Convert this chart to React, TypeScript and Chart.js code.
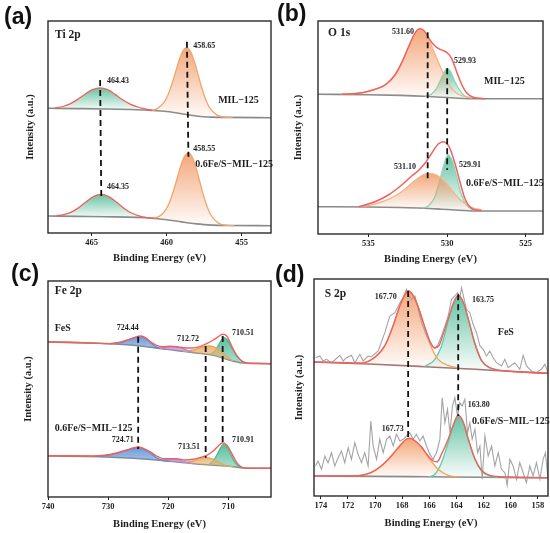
import React, { useEffect, useRef } from 'react';
import Chart from 'chart.js/auto';

type Pt = [number, number];
type RGB = [number, number, number];

const SERIF = "'Liberation Serif', 'Times New Roman', serif";
const SANS = "'Liberation Sans', Arial, sans-serif";
const INK = '#1f1f1f';

// ---------- (a) Ti 2p ----------
const aTicks = [465, 460, 455];
const aTopBg: Pt[] = [[467.9, 124.7], [466, 124.4], [464, 124], [462, 123.3], [461, 122.6], [460, 121.5], [459.5, 120.5], [459, 119.3], [458.5, 118], [458, 117], [457.5, 116.3], [457, 115.9], [456, 115.6], [453.05, 115.3]];
const aTopTi2p1: Pt[] = [[467.43, 124.8], [466.93, 126.5], [466.43, 129.2], [465.93, 133.6], [465.43, 138.8], [464.93, 143.3], [464.43, 145.2], [463.93, 143.3], [463.43, 138.6], [462.93, 133.2], [462.43, 128.8], [461.93, 126], [461.43, 124.2], [460.93, 122.6]];
const aTopTi2p3: Pt[] = [[461, 122.6], [460.65, 124.1], [460.15, 131.2], [459.9, 138.5], [459.65, 149], [459.4, 161.4], [459.15, 173.5], [458.9, 182.5], [458.65, 185.4], [458.4, 181.2], [458.15, 171.2], [457.9, 158.1], [457.65, 144.7], [457.4, 133.6], [457.15, 125.6], [456.65, 117.9], [456.15, 115.9], [455.6, 115.5]];
const aBotBg: Pt[] = [[467.9, 17], [466, 16.6], [464, 16.2], [462, 15.6], [461, 14.8], [460, 13.2], [459.5, 12.2], [459, 11.1], [458.5, 10], [458, 9.1], [457.5, 8.4], [457, 7.9], [456, 7.5], [453.05, 7.3]];
const aBotTi2p1: Pt[] = [[467.35, 17.2], [466.85, 18.3], [466.35, 20.8], [465.85, 25.4], [465.35, 31.3], [464.85, 36.6], [464.35, 38.7], [463.85, 36.4], [463.35, 30.9], [462.85, 24.8], [462.35, 20], [461.85, 17.2], [461.35, 15.4], [460.85, 14.6]];
const aBotTi2p3: Pt[] = [[461.05, 15.1], [460.55, 16.2], [460.05, 23.3], [459.8, 30.9], [459.55, 41.8], [459.3, 54.8], [459.05, 67.6], [458.8, 76.9], [458.55, 80.1], [458.3, 76], [458.05, 65.6], [457.8, 51.9], [457.55, 37.9], [457.3, 26.3], [457.05, 18], [456.55, 9.9], [456.05, 7.8], [455.5, 7.4]];
const aDash1: Pt[] = [[464.43, 153], [464.35, 34.7]];
const aDash2: Pt[] = [[458.65, 191.3], [458.55, 76.3]];

// ---------- (b) O 1s ----------
const bTicks = [535, 530, 525];
const bTopBg: Pt[] = [[538.2, 139.8], [535, 139.3], [533, 138.6], [531.5, 137.8], [530.35, 136.8], [529.5, 136], [528.65, 135.4], [527, 135.3], [523.9, 135.3]];
const bTopOH: Pt[] = [[536.7, 139.7], [535.4, 141.3], [534.58, 144.7], [533.94, 149], [533.3, 159], [532.88, 170.7], [532.46, 185.7], [532.14, 196.7], [531.93, 202], [531.72, 204], [531.46, 202.3], [531.19, 195.7], [530.87, 184], [530.56, 172.3], [530.24, 160.7], [529.92, 150.7], [529.5, 142.3], [529.08, 138.3], [528.44, 136.3]];
const bTopOL: Pt[] = [[531.4, 137.6], [530.98, 140], [530.66, 145.7], [530.41, 154], [530.2, 161.3], [529.99, 165.7], [529.78, 162.3], [529.5, 152.3], [529.18, 143.3], [528.87, 138], [528.44, 135.8]];
const bTopSum: Pt[] = [[536.7, 139.7], [535.4, 141.3], [534.58, 144.7], [533.94, 149], [533.3, 159.3], [532.88, 171.3], [532.46, 186.7], [532.14, 198], [531.93, 203.3], [531.72, 205.3], [531.46, 203.3], [531.19, 196.7], [530.87, 189.7], [530.56, 185.7], [530.24, 183.3], [529.99, 181.3], [529.71, 175.7], [529.39, 162.3], [529.08, 150], [528.76, 141.3], [528.33, 136.7], [527.6, 135.3]];
const bBotBg: Pt[] = [[538.2, 27.3], [535, 27], [533, 26.5], [531.5, 25.8], [530.35, 24.8], [529.5, 24], [528.65, 23.3], [527, 23], [523.9, 23]];
const bBotOH: Pt[] = [[535.62, 27.1], [534.58, 30], [533.73, 34.7], [532.88, 42.3], [532.25, 50.7], [531.72, 57.3], [531.19, 60.7], [530.66, 59], [530.14, 52.3], [529.61, 42.3], [529.08, 33], [528.44, 26.7], [527.8, 24]];
const bBotOL: Pt[] = [[531.6, 25.8], [531.19, 28], [530.77, 37.3], [530.45, 54], [530.2, 69], [529.93, 79], [529.65, 72.3], [529.39, 57.3], [529.08, 39], [528.76, 29], [528.23, 23.5]];
const bBotSum: Pt[] = [[535.62, 27.3], [534.58, 32.3], [533.73, 39], [532.88, 49], [532.25, 58], [531.83, 63.3], [531.4, 70.7], [530.98, 80.7], [530.56, 90], [530.24, 92.3], [530.03, 90.7], [529.82, 85.7], [529.5, 70.7], [529.18, 52.3], [528.87, 35.7], [528.44, 25.7], [527.8, 23.3]];
const bDash1: Pt[] = [[531.23, 201.7], [531.23, 55.7]];
const bDash2: Pt[] = [[529.99, 165.7], [529.99, 64]];

// ---------- (c) Fe 2p ----------
const cTicks = [740, 730, 720, 710];
const cTopBg: Pt[] = [[740, 155], [731.38, 153.7], [725.83, 151.7], [720.27, 147.7], [714.72, 143.7], [712.5, 141.7], [710.27, 137.7], [708.05, 134.3], [705.83, 133.7], [702.9, 133.3]];
const cTopFe2p1: Pt[] = [[729.72, 153.3], [728.05, 154.3], [726.66, 157], [725.55, 159.3], [724.72, 160.3], [723.88, 159], [723.05, 155], [722.22, 151], [721.39, 148.8]];
const cTopSat: Pt[] = [[721.66, 148.8], [720.27, 150], [719.16, 150.3], [718.05, 149.3], [716.94, 147], [716.11, 145.3]];
const cTopFe3: Pt[] = [[717.49, 145.7], [715.83, 147], [714.44, 149.7], [713.33, 151], [712.22, 149.7], [711.11, 145], [710, 139.3], [709.16, 136]];
const cTopFe2: Pt[] = [[713.05, 142.3], [712.22, 146], [711.66, 151.7], [711.11, 157], [710.72, 159.3], [710.16, 157], [709.44, 149.3], [708.61, 141], [707.77, 136], [706.94, 134]];
const cTopSum: Pt[] = [[740, 155.3], [734.16, 154.3], [729.72, 153.3], [728.05, 154.7], [726.66, 157.3], [725.55, 159.7], [724.72, 161], [723.88, 159.7], [723.05, 155.7], [721.94, 151.7], [720.83, 150.3], [719.72, 150.7], [718.61, 150.3], [717.49, 149.3], [716.11, 149], [714.72, 150.3], [713.61, 153.3], [712.5, 157], [711.66, 160.3], [710.94, 162.7], [710.27, 161], [709.44, 151], [708.61, 141.7], [707.77, 136], [706.66, 133.7], [702.9, 133.3]];
const cBotBg: Pt[] = [[740, 41], [731.38, 40.3], [725.83, 38.7], [720.27, 36], [714.72, 32.7], [712.5, 31.8], [710.27, 31], [708.05, 29.3], [705.83, 28.7], [702.9, 28.7]];
const cBotFe2p1: Pt[] = [[732.5, 40.7], [730.27, 41.7], [728.6, 43.7], [726.94, 46.7], [725.83, 48.7], [725, 49.3], [724.16, 48], [723.05, 44.3], [721.94, 39.3], [720.83, 36.3], [719.72, 35.7]];
const cBotSat: Pt[] = [[721.39, 36.6], [720, 37.7], [718.89, 37.7], [717.77, 36.3], [716.66, 34.3], [715.83, 33.4]];
const cBotFe3: Pt[] = [[717.49, 34.4], [715.83, 36], [714.72, 38.3], [713.88, 39.3], [712.77, 38.3], [711.66, 35], [710.55, 31.7], [709.16, 30.2]];
const cBotFe2: Pt[] = [[713.33, 32.2], [712.5, 36], [711.83, 42.7], [711.27, 49.3], [710.83, 52.7], [710.27, 50.3], [709.61, 42.7], [708.88, 34.3], [708.05, 30], [706.94, 28.9]];
const cBotSum: Pt[] = [[740, 41.3], [732.5, 41], [730.27, 42], [728.61, 44], [726.94, 47], [725.83, 49], [725, 50], [724.16, 48.7], [723.05, 45.3], [721.94, 41], [720.83, 38.3], [719.72, 38.3], [718.61, 38.3], [717.22, 37], [715.83, 37.7], [714.72, 39.3], [713.61, 41.7], [712.5, 46], [711.66, 51], [710.94, 54.3], [710.27, 52], [709.44, 43.7], [708.61, 34.3], [707.77, 30], [706.66, 28.7], [702.9, 28.7]];
const cDash1: Pt[] = [[725.0, 160.3], [725.0, 48]];
const cDash2: Pt[] = [[713.77, 151], [713.77, 39.3]];
const cDash3: Pt[] = [[710.94, 161], [710.94, 51]];

// ---------- (d) S 2p ----------
const dTicks = [174, 172, 170, 168, 166, 164, 162, 160, 158];
const dTopBg: Pt[] = [[174.5, 134], [170.02, 131.7], [166.33, 129.3], [162.64, 126.7], [160.18, 124.7], [157.25, 122.7]];
const dTopSO4: Pt[] = [[171, 132.3], [170.02, 138.3], [169.28, 150], [168.67, 170], [168.17, 190], [167.81, 200.7], [167.56, 205], [167.27, 201.7], [166.87, 190.7], [166.38, 170], [165.84, 148.3], [165.35, 136.7], [164.61, 130.7], [163.87, 128.2]];
const dTopS2: Pt[] = [[166.33, 129.5], [165.59, 136.7], [165.1, 150], [164.61, 175], [164.24, 191.7], [163.87, 200], [163.5, 193.3], [163.13, 176.7], [162.64, 151.7], [162.15, 135], [161.54, 128], [160.92, 125.4]];
const dTopSum: Pt[] = [[174.5, 134], [171.98, 133.3], [171, 133], [170.02, 138.7], [169.28, 150.3], [168.67, 170.3], [168.17, 190.3], [167.81, 201], [167.56, 205.3], [167.26, 202], [166.87, 191], [166.38, 171], [165.96, 155], [165.59, 148.3], [165.3, 150], [164.98, 161.7], [164.61, 176.7], [164.24, 192.3], [163.87, 200.7], [163.5, 194], [163.13, 177.3], [162.64, 152.7], [162.15, 135.7], [161.54, 128.3], [160.19, 125], [157.25, 122.7]];
const dTopRaw: Pt[] = [[174.39, 138.3], [174.07, 140], [173.83, 135], [173.58, 136.7], [173.21, 133.3], [172.97, 136], [172.6, 140.7], [172.35, 135], [172.11, 138.3], [171.74, 140.7], [171.49, 133.3], [171.12, 141.7], [170.88, 135], [170.51, 140], [170.26, 139.3], [169.77, 145], [169.28, 163.3], [168.91, 180], [168.54, 183.3], [168.17, 193.3], [167.93, 198.3], [167.68, 206.7], [167.56, 201.7], [167.31, 196.7], [167.06, 200], [166.82, 186.7], [166.57, 173.3], [166.2, 160], [165.84, 150], [165.59, 147.3], [165.35, 151.7], [165.1, 160], [164.85, 170], [164.61, 180], [164.36, 196.7], [164.12, 200], [163.92, 203.3], [163.75, 198.3], [163.62, 208.3], [163.43, 196.7], [163.26, 186.7], [163.01, 183.3], [162.77, 171.7], [162.52, 163.3], [162.27, 150], [162.03, 146.7], [161.78, 140], [161.54, 145], [161.29, 138.3], [161.05, 133.3], [160.68, 130], [160.43, 136.7], [160.19, 128.3], [159.7, 133.3], [159.33, 126.7], [159.08, 140.7], [158.84, 130], [158.47, 125], [158.1, 123.3], [157.73, 126.7], [157.48, 131.7], [157.25, 123.3]];
const dBotBg: Pt[] = [[174.5, 20], [170, 19.6], [166, 19.2], [162, 18.8], [157.25, 18.2]];
const dBotSO4: Pt[] = [[171.25, 19.9], [170.27, 23.3], [169.53, 30], [168.79, 40], [168.17, 50], [167.68, 56.7], [167.44, 57.3], [167.06, 55], [166.57, 48.3], [165.96, 36.7], [165.35, 26.7], [164.61, 20.7], [163.87, 19]];
const dBotS2: Pt[] = [[166.08, 19.2], [165.59, 21.7], [165.1, 33.3], [164.61, 53.3], [164.24, 70], [163.87, 80], [163.5, 73.3], [163.13, 56.7], [162.64, 36.7], [162.15, 25], [161.54, 20], [160.92, 18.7]];
const dBotSum: Pt[] = [[174.5, 20], [171.25, 20.3], [170.27, 23.7], [169.53, 30.3], [168.79, 40.3], [168.17, 50.3], [167.68, 57], [167.44, 57.7], [167.06, 55.3], [166.57, 49], [166.08, 40], [165.71, 35], [165.42, 34.3], [165.1, 41.7], [164.61, 56.7], [164.24, 70.7], [163.87, 80.7], [163.5, 74], [163.13, 57.3], [162.64, 37.3], [162.15, 25.7], [161.54, 20.7], [160.19, 19], [157.25, 18.2]];
const dBotRaw: Pt[] = [[174.39, 30], [174.2, 35], [173.95, 26.7], [173.7, 40], [173.46, 33.3], [173.21, 43.3], [172.97, 30], [172.72, 38.3], [172.48, 45], [172.23, 33.3], [171.98, 48.3], [171.74, 36.7], [171.49, 53.3], [171.25, 41.7], [171, 33.3], [170.76, 43.3], [170.51, 30], [170.31, 75], [170.14, 50], [169.89, 36.7], [169.65, 56.7], [169.4, 43.3], [169.15, 56.7], [168.91, 60], [168.66, 50], [168.42, 61.7], [168.17, 55], [167.93, 56.7], [167.68, 60], [167.44, 63.3], [167.19, 56.7], [166.95, 61.7], [166.7, 55], [166.46, 60], [166.21, 50], [165.96, 41.7], [165.72, 36.7], [165.47, 43.3], [165.22, 56.7], [165.05, 98.3], [164.85, 73.3], [164.66, 86.7], [164.48, 63.3], [164.29, 90], [164.12, 98.3], [163.92, 80], [163.75, 93.3], [163.58, 90], [163.38, 96.7], [163.18, 63.3], [163.01, 73.3], [162.84, 56.7], [162.64, 66.7], [162.44, 43.3], [162.27, 50], [162.1, 16.7], [161.9, 60], [161.66, 40], [161.41, 50], [161.17, 30], [160.92, 43.3], [160.68, 26.7], [160.43, 23.3], [160.26, 10.7], [160.06, 36.7], [159.82, 30], [159.57, 16.7], [159.33, 33.3], [159.08, 23.3], [158.84, 13.3], [158.59, 30], [158.35, 20], [158.1, 33.3], [157.85, 16.7], [157.61, 36.7], [157.44, 43.3], [157.25, 16.7]];
const dDash1: Pt[] = [[167.56, 205], [167.56, 57.3]];
const dDash2: Pt[] = [[163.87, 201.7], [163.87, 80]];

// colours
const GREEN: RGB = [78, 184, 148];
const ORANGE: RGB = [241, 152, 98];
const BLUE: RGB = [98, 146, 212];
const PURPLE: RGB = [186, 142, 232];
const AMBER: RGB = [232, 176, 108];
const RED = '#f0605c';
const GREY = '#8a8a8a';

interface Series {
  pts: Pt[];
  color: string;
  width?: number;
  order: number;
  dash?: number[];
  straight?: boolean;
  fillTo?: number;
  rgb?: RGB;
  alpha?: [number, number];
}

interface Note {
  text: string;
  x: number;
  y: number;
  size: number;
}

interface PanelProps {
  left: number;
  top: number;
  width: number;
  height: number;
  padTop: number;
  padRight: number;
  yWidth: number;
  xHeight: number;
  xMin: number;
  xMax: number;
  yMax: number;
  ticks: number[];
  yTitleX: number;
  xTitlePad: number;
  series: Series[];
  notes: Note[];
}

const bg = (pts: Pt[], color = GREY): Series => ({ pts, color, width: 1.6, order: 5 });
const comp = (pts: Pt[], fillTo: number, rgb: RGB, line: string, alpha?: [number, number]): Series => ({
  pts, fillTo, rgb, color: line, width: 1.3, order: 4, alpha,
});
const curve = (pts: Pt[], color: string, order = 1, width = 1.5, straight = false): Series => ({
  pts, color, order, width, straight,
});
const dashed = (pts: Pt[]): Series => ({ pts, color: '#111', width: 1.8, order: 0, dash: [6, 4], straight: true });

const Panel: React.FC<PanelProps> = (p) => {
  const chartRef = useRef<HTMLCanvasElement>(null);

  useEffect(() => {
    if (!chartRef.current) return;

    const datasets = p.series.map((s) => {
      // ascending pixel order on the reversed energy axis
      const data = s.pts.map(([x, y]) => ({ x, y })).sort((m, n) => n.x - m.x);
      const ys = data.map((d) => d.y);
      const hi = Math.max(...ys);
      const lo = Math.min(...ys);
      return {
        data,
        borderColor: s.color,
        borderWidth: s.width ?? 1.5,
        borderDash: s.dash ?? [],
        pointRadius: 0,
        order: s.order,
        tension: 0,
        cubicInterpolationMode: s.straight ? 'default' : 'monotone',
        fill: s.fillTo !== undefined ? s.fillTo : false,
        backgroundColor: s.rgb
          ? (c: any) => {
              const chart = c.chart;
              if (!chart.chartArea) return 'rgba(0,0,0,0)';
              const ys2 = chart.scales.y;
              const g = chart.ctx.createLinearGradient(0, ys2.getPixelForValue(hi), 0, ys2.getPixelForValue(lo));
              const [r, gg, b] = s.rgb as RGB;
              const [a0, a1] = s.alpha ?? [0.85, 0.03];
              g.addColorStop(0, `rgba(${r},${gg},${b},${a0})`);
              g.addColorStop(1, `rgba(${r},${gg},${b},${a1})`);
              return g;
            }
          : 'rgba(0,0,0,0)',
      };
    });

    const decor = {
      id: 'decor',
      afterDraw(chart: any) {
        const { ctx, chartArea, scales } = chart;
        ctx.save();
        ctx.strokeStyle = '#2a2a2a';
        ctx.lineWidth = 1.4;
        ctx.strokeRect(chartArea.left, chartArea.top, chartArea.right - chartArea.left, chartArea.bottom - chartArea.top);
        ctx.fillStyle = INK;
        ctx.textAlign = 'left';
        ctx.textBaseline = 'middle';
        for (const n of p.notes) {
          ctx.font = `bold ${n.size}px ${SERIF}`;
          ctx.fillText(n.text, scales.x.getPixelForValue(n.x), scales.y.getPixelForValue(n.y));
        }
        ctx.restore();
      },
    };

    const axisFont = { family: SERIF, size: 10.5, weight: 'bold' as const };

    const chart = new Chart(chartRef.current, {
      type: 'line',
      data: { datasets: datasets as any },
      plugins: [decor],
      options: {
        animation: false,
        responsive: true,
        maintainAspectRatio: false,
        events: [],
        layout: { padding: { top: p.padTop, right: p.padRight, left: 0, bottom: 0 } },
        plugins: { legend: { display: false }, tooltip: { enabled: false } },
        scales: {
          x: {
            type: 'linear',
            min: p.xMin,
            max: p.xMax,
            reverse: true,
            afterBuildTicks: (axis: any) => {
              axis.ticks = p.ticks.map((v) => ({ value: v }));
            },
            afterFit: (axis: any) => {
              axis.height = p.xHeight;
            },
            ticks: {
              autoSkip: false,
              maxRotation: 0,
              padding: 2,
              color: INK,
              font: { family: SERIF, size: 8.5, weight: 'bold' },
            },
            grid: { display: true, drawOnChartArea: false, drawTicks: true, tickLength: 3, color: INK },
            border: { display: false },
            title: {
              display: true,
              text: 'Binding Energy (eV)',
              color: INK,
              font: axisFont,
              padding: { top: 0, bottom: p.xTitlePad },
            },
          },
          y: {
            type: 'linear',
            min: 0,
            max: p.yMax,
            afterFit: (axis: any) => {
              axis.width = p.yWidth;
            },
            ticks: { display: false },
            grid: { display: false },
            border: { display: false },
            title: {
              display: true,
              text: 'Intensity (a.u.)',
              color: INK,
              font: axisFont,
              padding: { top: p.yTitleX - 6.3, bottom: 0 },
            },
          },
        },
      },
    });

    return () => {
      chart.destroy();
    };
  }, [p]);

  return (
    <div style={{ position: 'absolute', left: p.left, top: p.top, width: p.width, height: p.height }}>
      <canvas ref={chartRef} />
    </div>
  );
};

const MIL = 'MIL\u2212125';
const FES_MIL = '0.6Fe/S\u2212MIL\u2212125';

const panels: PanelProps[] = [
  {
    left: 0, top: 0, width: 275, height: 266, padTop: 21, padRight: 4, yWidth: 48, xHeight: 33,
    xMin: 453.05, xMax: 467.9, yMax: 212, ticks: aTicks, yTitleX: 30, xTitlePad: 1.7,
    series: [
      bg(aTopBg),
      comp(aTopTi2p1, 0, GREEN, RED),
      comp(aTopTi2p3, 0, ORANGE, '#f3a46e'),
      bg(aBotBg),
      comp(aBotTi2p1, 3, GREEN, RED),
      comp(aBotTi2p3, 3, ORANGE, '#f3a46e'),
      dashed(aDash1),
      dashed(aDash2),
    ],
    notes: [
      { text: 'Ti 2p', x: 467.43, y: 198, size: 11.5 },
      { text: '464.43', x: 463.97, y: 152, size: 8 },
      { text: '458.65', x: 458.23, y: 187, size: 8 },
      { text: MIL, x: 456.57, y: 133, size: 10 },
      { text: '458.55', x: 458.23, y: 84, size: 8 },
      { text: FES_MIL, x: 458.1, y: 69, size: 10 },
      { text: '464.35', x: 463.97, y: 46, size: 8 },
    ],
  },
  {
    left: 275, top: 0, width: 275, height: 266, padTop: 21, padRight: 7, yWidth: 43, xHeight: 32,
    xMin: 523.9, xMax: 538.2, yMax: 213, ticks: bTicks, yTitleX: 23, xTitlePad: 0,
    series: [
      bg(bTopBg),
      comp(bTopOH, 0, ORANGE, '#f6b48a'),
      comp(bTopOL, 0, GREEN, '#86d6bb'),
      curve(bTopSum, RED),
      bg(bBotBg),
      comp(bBotOH, 4, ORANGE, '#f6b48a'),
      comp(bBotOL, 4, GREEN, '#86d6bb'),
      curve(bBotSum, RED),
      dashed(bDash1),
      dashed(bDash2),
    ],
    notes: [
      { text: 'O 1s', x: 537.56, y: 201, size: 11.5 },
      { text: '531.60', x: 533.5, y: 202, size: 8 },
      { text: '529.93', x: 529.55, y: 173, size: 8 },
      { text: MIL, x: 527.65, y: 153, size: 10 },
      { text: '531.10', x: 533.37, y: 67, size: 8 },
      { text: '529.91', x: 529.24, y: 69, size: 8 },
      { text: FES_MIL, x: 528.79, y: 51, size: 10 },
    ],
  },
  {
    left: 0, top: 266, width: 275, height: 267, padTop: 15, padRight: 4, yWidth: 48, xHeight: 36,
    xMin: 702.9, xMax: 740, yMax: 216, ticks: cTicks, yTitleX: 28, xTitlePad: 2.7,
    series: [
      bg(cTopBg),
      comp(cTopFe2p1, 0, BLUE, '#5d8ccc', [0.92, 0.55]),
      comp(cTopSat, 0, PURPLE, '#b58be0', [0.9, 0.5]),
      comp(cTopFe3, 0, AMBER, '#e0a860', [0.9, 0.45]),
      comp(cTopFe2, 0, GREEN, '#4cb892', [0.92, 0.45]),
      curve(cTopSum, RED, 1, 1.4),
      bg(cBotBg),
      comp(cBotFe2p1, 6, BLUE, '#5d8ccc', [0.92, 0.55]),
      comp(cBotSat, 6, PURPLE, '#b58be0', [0.9, 0.5]),
      comp(cBotFe3, 6, AMBER, '#e0a860', [0.9, 0.45]),
      comp(cBotFe2, 6, GREEN, '#4cb892', [0.92, 0.45]),
      curve(cBotSum, RED, 1, 1.4),
      dashed(cDash1),
      dashed(cDash2),
      dashed(cDash3),
    ],
    notes: [
      { text: 'Fe 2p', x: 738.88, y: 206, size: 11.5 },
      { text: 'FeS', x: 738.88, y: 169, size: 10 },
      { text: '724.44', x: 728.55, y: 169, size: 8 },
      { text: '712.72', x: 718.55, y: 158, size: 8 },
      { text: '710.51', x: 709.38, y: 164, size: 8 },
      { text: FES_MIL, x: 738.88, y: 69, size: 10 },
      { text: '724.71', x: 729.38, y: 57, size: 8 },
      { text: '713.51', x: 718.38, y: 50, size: 8 },
      { text: '710.91', x: 709.38, y: 57, size: 8 },
    ],
  },
  {
    left: 275, top: 266, width: 275, height: 267, padTop: 13, padRight: 2, yWidth: 39, xHeight: 37,
    xMin: 157.25, xMax: 174.5, yMax: 217, ticks: dTicks, yTitleX: 24, xTitlePad: 3.7,
    series: [
      bg(dTopBg, '#a27472'),
      comp(dTopSO4, 0, ORANGE, '#f3a35f'),
      comp(dTopS2, 0, GREEN, '#55cfae'),
      curve(dTopRaw, '#a4a4a4', 2, 1.1, true),
      curve(dTopSum, RED, 1, 1.4),
      bg(dBotBg),
      comp(dBotSO4, 5, ORANGE, '#f3a35f'),
      comp(dBotS2, 5, GREEN, '#55cfae'),
      curve(dBotRaw, '#a4a4a4', 2, 1.1, true),
      curve(dBotSum, RED, 1, 1.4),
      dashed(dDash1),
      dashed(dDash2),
    ],
    notes: [
      { text: 'S 2p', x: 173.7, y: 202, size: 11.5 },
      { text: '167.70', x: 170.02, y: 199, size: 8 },
      { text: '163.75', x: 162.86, y: 196, size: 8 },
      { text: 'FeS', x: 160.95, y: 164, size: 10 },
      { text: '163.80', x: 163.16, y: 91, size: 8 },
      { text: FES_MIL, x: 162.86, y: 75, size: 10 },
      { text: '167.73', x: 169.5, y: 67, size: 8 },
    ],
  },
];

const letters = [
  { text: '(a)', left: 4, top: 3 },
  { text: '(b)', left: 277, top: 0 },
  { text: '(c)', left: 11, top: 260 },
  { text: '(d)', left: 275, top: 261 },
];

export default function App() {
  return (
    <div style={{ position: 'absolute', left: 0, top: 0, width: 550, height: 533, background: '#fff', overflow: 'hidden' }}>
      {panels.map((p, i) => (
        <Panel key={i} {...p} />
      ))}
      {letters.map((l) => (
        <div
          key={l.text}
          style={{
            position: 'absolute',
            left: l.left,
            top: l.top,
            fontFamily: SANS,
            fontWeight: 'bold',
            fontSize: 23,
            lineHeight: '26px',
            color: '#111',
          }}
        >
          {l.text}
        </div>
      ))}
    </div>
  );
}
